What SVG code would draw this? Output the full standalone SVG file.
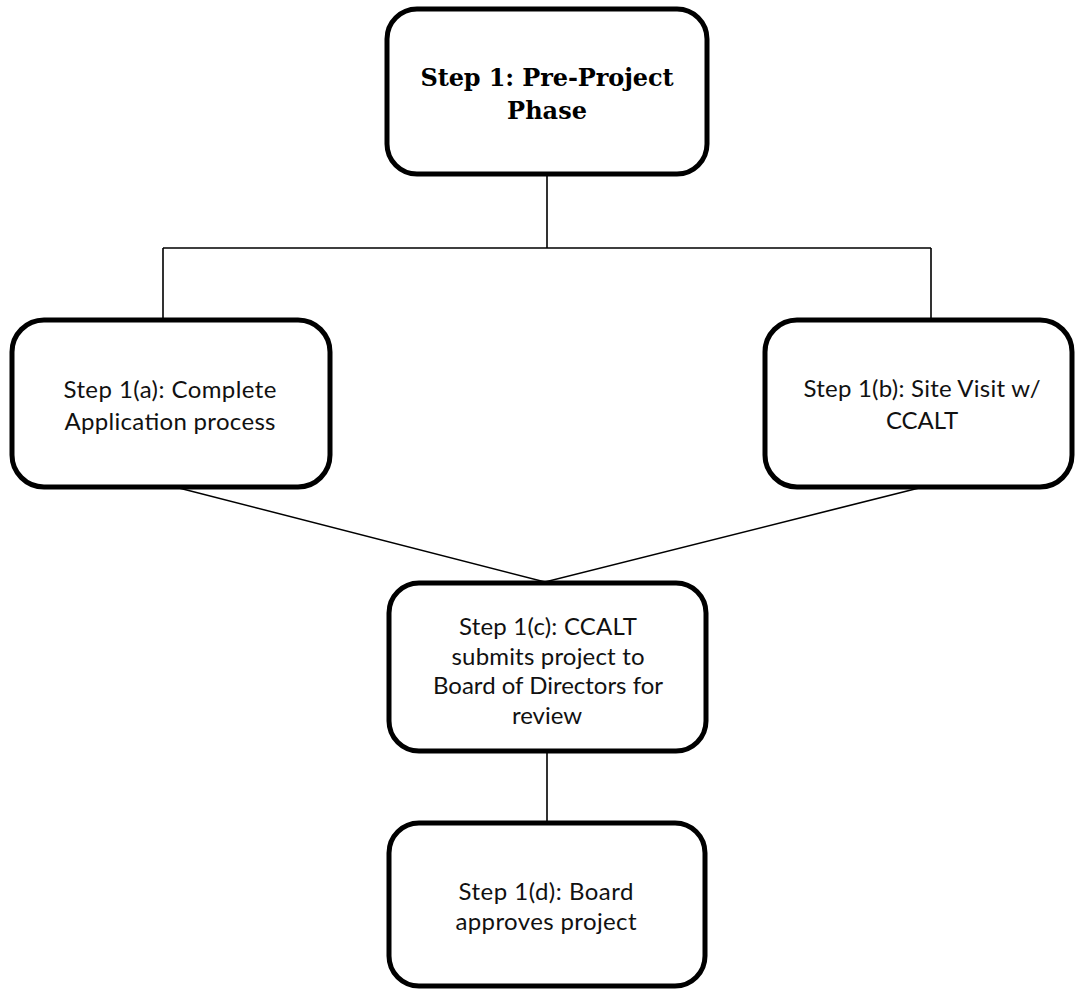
<svg xmlns="http://www.w3.org/2000/svg" width="1076" height="990" viewBox="0 0 1076 990">
<style>
.box{fill:#fff;stroke:#000;stroke-width:5}
.con{fill:none;stroke:#000;stroke-width:1.6}
.t{font-family:Lato,"Open Sans",sans-serif;font-size:24px;fill:#111;text-anchor:middle}
.h{font-family:"DejaVu Serif","Liberation Serif",serif;font-weight:bold;font-size:24px;fill:#000;text-anchor:middle}
</style>
<rect width="1076" height="990" fill="#fff"/>
<g id="connectors">
<path class="con" d="M547 174V248M163 248H931M163 248V320M931 248V320M175 487L545 582L923 487M547 751V823"/>
</g>
<g id="step1">
<rect class="box" x="387" y="9" width="320" height="165" rx="30"/>
<text class="h" x="547" y="86" textLength="253">Step 1: Pre-Project</text>
<text class="h" x="547" y="119">Phase</text>
</g>
<g id="step1a">
<rect class="box" x="12" y="320" width="318" height="167" rx="32"/>
<text class="t" x="170" y="398" textLength="213">Step 1(a): Complete</text>
<text class="t" x="170" y="430" textLength="211">Application process</text>
</g>
<g id="step1b">
<rect class="box" x="765" y="320" width="307" height="167" rx="32"/>
<text class="t" x="922" y="397" textLength="237">Step 1(b): Site Visit w/</text>
<text class="t" x="922" y="429">CCALT</text>
</g>
<g id="step1c">
<rect class="box" x="389" y="583" width="317" height="168" rx="30"/>
<text class="t" x="548" y="635" textLength="178">Step 1(c): CCALT</text>
<text class="t" x="548" y="664.5" textLength="193">submits project to</text>
<text class="t" x="548" y="694" textLength="230">Board of Directors for</text>
<text class="t" x="547" y="723.5">review</text>
</g>
<g id="step1d">
<rect class="box" x="389" y="823" width="316" height="163" rx="30"/>
<text class="t" x="546" y="900" textLength="175">Step 1(d): Board</text>
<text class="t" x="546" y="930" textLength="181">approves project</text>
</g>
</svg>
